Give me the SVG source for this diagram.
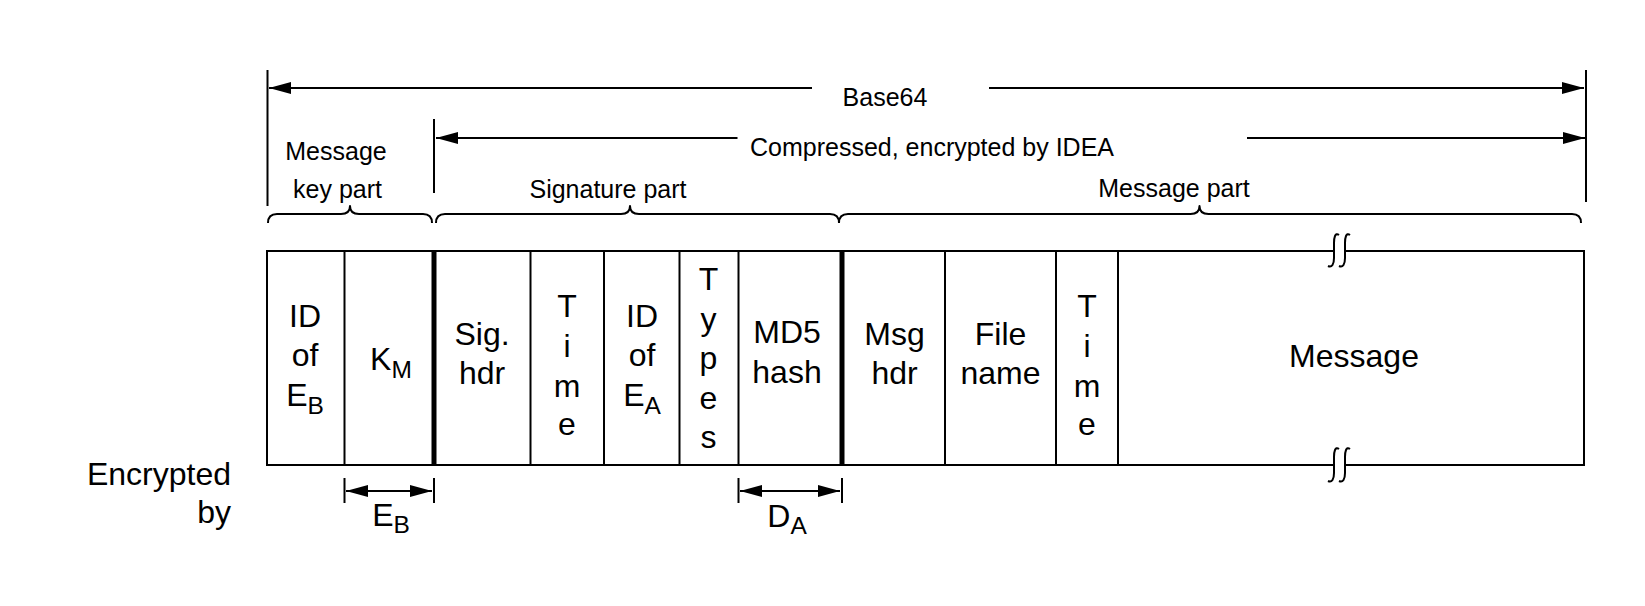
<svg xmlns="http://www.w3.org/2000/svg" width="1645" height="606" viewBox="0 0 1645 606">
<style>
  text { font-family: "Liberation Sans", Arial, Helvetica, sans-serif; fill: #000; }
  .big { font-size: 32px; text-anchor: middle; }
  .small { font-size: 25px; text-anchor: middle; }
  .sub { font-size: 24.5px; }
  .ln { stroke: #000; stroke-width: 2; fill: none; }
  .thick { stroke: #000; stroke-width: 5; fill: none; }
  .brace { stroke: #000; stroke-width: 2; fill: none; stroke-linejoin: round; }
</style>
<defs>
  <marker id="ah" markerUnits="userSpaceOnUse" markerWidth="22" markerHeight="12" viewBox="0 0 22 12" refX="22" refY="6" orient="auto-start-reverse">
    <path d="M0,0 L22,6 L0,12 Z" fill="#000"/>
  </marker>
</defs>
<rect width="1645" height="606" fill="#fff"/>

<g id="connectors">
  <!-- Base64 span -->
  <line class="ln" x1="267.5" y1="70" x2="267.5" y2="206"/>
  <line class="ln" x1="1586" y1="70" x2="1586" y2="202"/>
  <line class="ln" x1="269" y1="88" x2="812" y2="88" marker-start="url(#ah)"/>
  <line class="ln" x1="989" y1="88" x2="1584" y2="88" marker-end="url(#ah)"/>
  <!-- Compressed span -->
  <line class="ln" x1="434" y1="119" x2="434" y2="193"/>
  <line class="ln" x1="436" y1="138" x2="737.5" y2="138" marker-start="url(#ah)"/>
  <line class="ln" x1="1247" y1="138" x2="1585" y2="138" marker-end="url(#ah)"/>
  <!-- Braces -->
  <path class="brace" d="M268,223 Q268,214 277,214 H341 Q350,214 350,206 Q350,214 359,214 H423 Q432,214 432,223"/>
  <path class="brace" d="M436,223 Q436,214 445,214 H621 Q630,214 630,206 Q630,214 639,214 H830 Q839,214 839,223"/>
  <path class="brace" d="M839,223 Q839,214 848,214 H1190.5 Q1199.5,214 1199.5,206 Q1199.5,214 1208.5,214 H1572 Q1581,214 1581,223"/>
  <!-- E_B range -->
  <line class="ln" x1="344.5" y1="478" x2="344.5" y2="503"/>
  <line class="ln" x1="434" y1="478" x2="434" y2="503"/>
  <line class="ln" x1="346" y1="491" x2="432" y2="491" marker-start="url(#ah)" marker-end="url(#ah)"/>
  <!-- D_A range -->
  <line class="ln" x1="738.5" y1="478" x2="738.5" y2="503"/>
  <line class="ln" x1="842" y1="478" x2="842" y2="503"/>
  <line class="ln" x1="740" y1="491" x2="840" y2="491" marker-start="url(#ah)" marker-end="url(#ah)"/>
</g>

<g id="labels">
  <text class="small" x="885" y="106">Base64</text>
  <text class="small" x="932" y="156">Compressed, encrypted by IDEA</text>
  <text class="small" x="336" y="160">Message</text>
  <text class="small" x="337.5" y="198">key part</text>
  <text class="small" x="608" y="198">Signature part</text>
  <text class="small" x="1174" y="197">Message part</text>
  <text style="font-size:32px;text-anchor:end" x="231" y="485">Encrypted</text>
  <text style="font-size:32px;text-anchor:end" x="231" y="523">by</text>
  <text class="big" x="391" y="526">E<tspan class="sub" dy="7">B</tspan></text>
  <text class="big" x="787" y="527">D<tspan class="sub" dy="7">A</tspan></text>
</g>

<g id="packet">
  <rect class="ln" x="267" y="251" width="1317" height="214"/>
  <!-- break marks -->
  <rect x="1334.5" y="247" width="10" height="7" fill="#fff"/>
  <rect x="1334.5" y="462" width="10" height="7" fill="#fff"/>
  <path class="ln" d="M1339,235 C1335,232 1334,238 1334,243 L1334,258 C1334,264 1332,268 1328,266"/>
  <path class="ln" d="M1350,235 C1346,232 1345,238 1345,243 L1345,258 C1345,264 1343,268 1339,266"/>
  <path class="ln" d="M1339,449 C1335,446 1334,452 1334,457 L1334,473 C1334,479 1332,483 1328,481"/>
  <path class="ln" d="M1350,449 C1346,446 1345,452 1345,457 L1345,473 C1345,479 1343,483 1339,481"/>
</g>

<g id="cell-id-eb">
  <line class="ln" x1="344.5" y1="251" x2="344.5" y2="465"/>
  <text class="big" x="305" y="327">ID</text>
  <text class="big" x="305" y="366">of</text>
  <text class="big" x="305" y="406">E<tspan class="sub" dy="8">B</tspan></text>
</g>
<g id="cell-km">
  <line class="thick" x1="434" y1="251" x2="434" y2="465"/>
  <text class="big" x="391" y="370">K<tspan class="sub" dy="8">M</tspan></text>
</g>
<g id="cell-sighdr">
  <line class="ln" x1="530.5" y1="251" x2="530.5" y2="465"/>
  <text class="big" x="482" y="345">Sig.</text>
  <text class="big" x="482" y="384">hdr</text>
</g>
<g id="cell-time1">
  <line class="ln" x1="604" y1="251" x2="604" y2="465"/>
  <text class="big" x="567" y="317">T</text>
  <text class="big" x="567" y="357">i</text>
  <text class="big" x="567" y="397">m</text>
  <text class="big" x="567" y="435">e</text>
</g>
<g id="cell-id-ea">
  <line class="ln" x1="679.5" y1="251" x2="679.5" y2="465"/>
  <text class="big" x="642" y="327">ID</text>
  <text class="big" x="642" y="366">of</text>
  <text class="big" x="642" y="406">E<tspan class="sub" dy="8">A</tspan></text>
</g>
<g id="cell-types">
  <line class="ln" x1="738.5" y1="251" x2="738.5" y2="465"/>
  <text class="big" x="708.5" y="290">T</text>
  <text class="big" x="708.5" y="329.5">y</text>
  <text class="big" x="708.5" y="369">p</text>
  <text class="big" x="708.5" y="408.5">e</text>
  <text class="big" x="708.5" y="448">s</text>
</g>
<g id="cell-md5">
  <line class="thick" x1="842" y1="251" x2="842" y2="465"/>
  <text class="big" x="787" y="343">MD5</text>
  <text class="big" x="787" y="383">hash</text>
</g>
<g id="cell-msghdr">
  <line class="ln" x1="945" y1="251" x2="945" y2="465"/>
  <text class="big" x="894.5" y="345">Msg</text>
  <text class="big" x="894.5" y="384">hdr</text>
</g>
<g id="cell-filename">
  <line class="ln" x1="1056" y1="251" x2="1056" y2="465"/>
  <text class="big" x="1000.5" y="345">File</text>
  <text class="big" x="1000.5" y="384">name</text>
</g>
<g id="cell-time2">
  <line class="ln" x1="1118" y1="251" x2="1118" y2="465"/>
  <text class="big" x="1087" y="317">T</text>
  <text class="big" x="1087" y="357">i</text>
  <text class="big" x="1087" y="397">m</text>
  <text class="big" x="1087" y="435">e</text>
</g>
<g id="cell-message">
  <text class="big" x="1354" y="367">Message</text>
</g>
</svg>
